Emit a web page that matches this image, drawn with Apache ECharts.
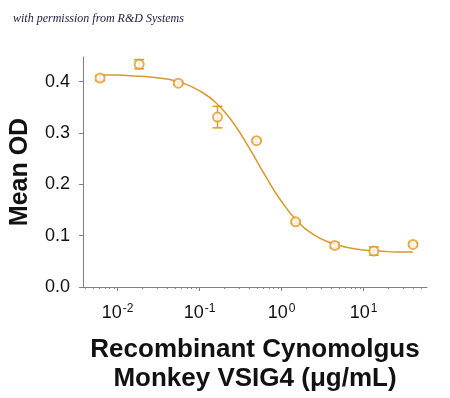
<!DOCTYPE html>
<html>
<head>
<meta charset="utf-8">
<script src="https://cdn.jsdelivr.net/npm/echarts@6/dist/echarts.min.js"></script>
<style>
  html, body { margin: 0; padding: 0; background: #fff; }
  #chart { width: 450px; height: 398px; }
</style>
</head>
<body>
<div id="chart"></div>
<script>
// concentrations (ug/mL), 3-fold dilutions
var conc = [0.0061, 0.0183, 0.0549, 0.165, 0.494, 1.48, 4.44, 13.3, 40]
var meanOD = [0.407, 0.434, 0.397, 0.331, 0.285, 0.127, 0.081, 0.070, 0.083]
var errOD = [0.005, 0.009, 0.003, 0.021, 0.003, 0.003, 0.005, 0.008, 0.003]

// fitted curve
var curveConc = [0.0063, 0.01, 0.0158, 0.0251, 0.0398, 0.0631, 0.1, 0.158, 0.251, 0.398,
  0.631, 1, 1.58, 2.51, 3.98, 6.31, 10, 15.8, 25.1, 39.8]
var curveOD = [0.413, 0.413, 0.411, 0.409, 0.405, 0.397, 0.382, 0.359, 0.322, 0.272,
  0.217, 0.166, 0.127, 0.101, 0.086, 0.077, 0.072, 0.070, 0.068, 0.068]

var majorTicks = [0.01, 0.1, 1, 10]
var minorTicks = [0.004, 0.005, 0.006, 0.007, 0.008, 0.009,
  0.02, 0.03, 0.04, 0.05, 0.06, 0.07, 0.08, 0.09,
  0.2, 0.3, 0.4, 0.5, 0.6, 0.7, 0.8, 0.9,
  2, 3, 4, 5, 6, 7, 8, 9,
  20, 30, 40, 50, 60]
var yTicks = [0, 0.1, 0.2, 0.3, 0.4]

var orange = '#e09a2a'
var axisGray = '#7f7f7f'
var lg = function (v) { return Math.log10(v) }

var chart = echarts.init(document.getElementById('chart'))
chart.setOption({
  animation: false,
  title: {
    text: 'with permission from R&D Systems',
    left: 8,
    top: 8,
    textStyle: {
      fontFamily: 'Liberation Serif',
      fontStyle: 'italic',
      fontWeight: 'normal',
      fontSize: 12,
      color: '#1c1c3a'
    }
  },
  grid: { left: 83, right: 23, top: 57, bottom: 109 },
  xAxis: [{
    type: 'value',
    min: lg(0.00378),
    max: lg(59.2),
    name: 'Recombinant Cynomolgus\nMonkey VSIG4 (μg/mL)',
    nameLocation: 'middle',
    nameGap: 48,
    nameTextStyle: {
      fontFamily: 'Liberation Sans',
      fontWeight: 'bold',
      fontSize: 26,
      lineHeight: 29,
      color: '#111'
    },
    axisLine: { show: true, onZero: false, lineStyle: { color: axisGray, width: 1 } },
    axisTick: { show: true, length: 4, customValues: majorTicks.map(lg), lineStyle: { color: axisGray } },
    splitLine: { show: false },
    axisLabel: {
      customValues: majorTicks.map(lg),
      margin: 16,
      formatter: function (v) { return '{b|10}{s|' + Math.round(v) + '}' },
      rich: {
        b: { fontFamily: 'Liberation Sans', fontSize: 18, color: '#111' },
        s: { fontFamily: 'Liberation Sans', fontSize: 12, color: '#111', verticalAlign: 'top', padding: [0, 0, 8, 1] }
      }
    }
  }, {
    type: 'value',
    position: 'bottom',
    min: lg(0.00378),
    max: lg(59.2),
    axisLine: { show: false, onZero: false },
    axisLabel: { show: false },
    splitLine: { show: false },
    axisTick: { show: true, length: 2, customValues: minorTicks.map(lg), lineStyle: { color: axisGray } }
  }],
  yAxis: {
    type: 'value',
    min: 0,
    max: 0.448,
    name: 'Mean OD',
    nameLocation: 'middle',
    nameGap: 50,
    nameTextStyle: {
      fontFamily: 'Liberation Sans',
      fontWeight: 'bold',
      fontSize: 25,
      color: '#111'
    },
    axisLine: { show: true, onZero: false, lineStyle: { color: axisGray, width: 1 } },
    axisTick: { show: true, length: 4, customValues: yTicks, lineStyle: { color: axisGray } },
    splitLine: { show: false },
    axisLabel: {
      customValues: yTicks,
      margin: 13,
      fontFamily: 'Liberation Sans',
      fontSize: 18,
      color: '#111',
      formatter: function (v) { return v.toFixed(1) }
    }
  },
  series: [{
    name: 'fit',
    type: 'line',
    smooth: true,
    showSymbol: false,
    data: curveConc.map(function (c, i) { return [lg(c), curveOD[i]] }),
    lineStyle: { color: '#d9982c', width: 1.5 },
    z: 2
  }, {
    name: 'error',
    type: 'custom',
    data: conc.map(function (c, i) { return [lg(c), meanOD[i] - errOD[i], meanOD[i] + errOD[i]] }),
    renderItem: function (params, api) {
      var lo = api.coord([api.value(0), api.value(1)])
      var hi = api.coord([api.value(0), api.value(2)])
      var w = 5
      var st = { stroke: orange, lineWidth: 1.5, fill: null }
      return {
        type: 'group',
        children: [
          { type: 'line', shape: { x1: lo[0], y1: lo[1], x2: hi[0], y2: hi[1] }, style: st },
          { type: 'line', shape: { x1: lo[0] - w, y1: lo[1], x2: lo[0] + w, y2: lo[1] }, style: st },
          { type: 'line', shape: { x1: hi[0] - w, y1: hi[1], x2: hi[0] + w, y2: hi[1] }, style: st }
        ]
      }
    },
    z: 3
  }, {
    name: 'mean',
    type: 'scatter',
    symbol: 'emptyCircle',
    symbolSize: 9,
    data: conc.map(function (c, i) { return [lg(c), meanOD[i]] }),
    itemStyle: { color: orange, borderColor: orange, borderWidth: 1.5 },
    z: 4
  }]
})
</script>
</body>
</html>
